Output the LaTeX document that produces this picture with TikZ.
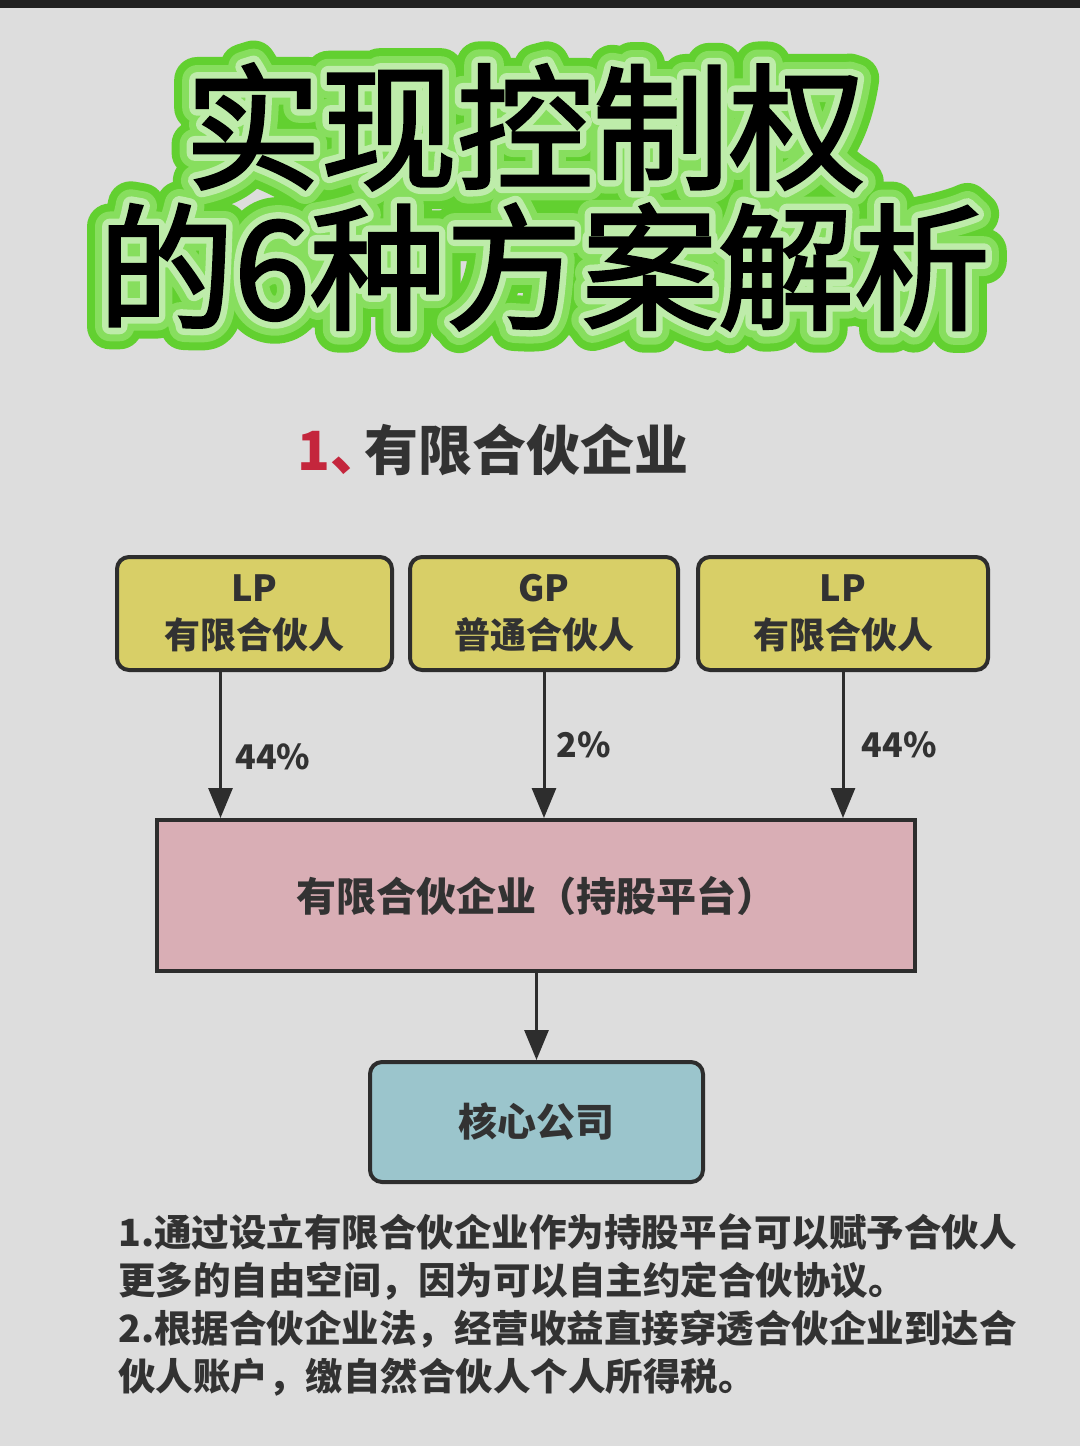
\documentclass[tikz,border=0pt]{standalone}
\usepackage{fontspec}
\newfontfamily\cjk{Noto Sans CJK SC}
\newfontfamily\cjkhead{Noto Sans CJK SC}[FakeBold=2.2]
\usetikzlibrary{arrows.meta, positioning}

\definecolor{paper}{RGB}{221,221,221}
\definecolor{topbar}{RGB}{32,32,32}
\definecolor{edge}{RGB}{45,45,45}
\definecolor{ink}{RGB}{50,50,50}
\definecolor{numred}{RGB}{196,38,60}
\definecolor{yellowbox}{RGB}{216,207,103}
\definecolor{pinkbox}{RGB}{217,174,181}
\definecolor{tealbox}{RGB}{155,197,204}
\definecolor{glowA}{rgb}{0.384,0.816,0.188}
\definecolor{glowB}{rgb}{0.53,0.87,0.37}
\definecolor{glowC}{rgb}{0.745,0.925,0.667}

% stroked copy of a title line: width, stroke colour, text
\newcommand\glowstroke[3]{\special{pdf:literal direct 2 Tr 1 j 1 J #1 w #2 RG}#3\special{pdf:literal direct 0 Tr}}

\begin{document}
\begin{tikzpicture}[x=1pt, y=-1pt]

% Define styles
\tikzstyle{headline}=[font=\cjkhead\fontsize{136}{136}\selectfont, inner sep=0pt]
\tikzstyle{halo}=[font=\cjk\fontsize{136}{136}\selectfont, inner sep=0pt]
\tikzstyle{partner}=[draw=edge, line width=4pt, rounded corners=12pt, fill=yellowbox, minimum height=113pt, align=center, text=ink, font=\cjk\bfseries\fontsize{36}{47}\selectfont]
\tikzstyle{holding}=[draw=edge, line width=4pt, fill=pinkbox, text=ink, font=\cjk\bfseries\fontsize{40}{40}\selectfont]
\tikzstyle{company}=[draw=edge, line width=4pt, rounded corners=12pt, fill=tealbox, text=ink, font=\cjk\bfseries\fontsize{39}{39}\selectfont]
\tikzstyle{flow}=[draw=edge, line width=3pt, -{Triangle[length=30pt, width=24pt]}]
\tikzstyle{pct}=[text=ink, font=\cjk\bfseries\fontsize{34}{34}\selectfont]
\tikzstyle{note}=[text=ink, align=left, inner sep=0pt, font=\cjk\bfseries\fontsize{37.5}{48}\selectfont]

% Page and top bar
\useasboundingbox (0,0) rectangle (1080,1446);
\fill[paper] (0,0) rectangle (1080,1446);
\fill[topbar] (0,0) rectangle (1080,8);

% Title with green glow
\foreach \w/\c/\s in {46/glowA/{0.384 0.816 0.188}, 30/glowB/{0.53 0.87 0.37}, 16/glowC/{0.745 0.925 0.667}} {
  \node[halo, text=\c] at (525,127) {\glowstroke{\w}{\s}{实现控制权}};
  \node[halo, text=\c] at (544,267) {\glowstroke{\w}{\s}{的6种方案解析}};
}
\node[headline] (titleA) at (525,127) {实现控制权};
\node[headline] (titleB) at (544,267) {的6种方案解析};

% Section heading
\node[anchor=west, inner sep=0pt, text=ink, font=\cjk\bfseries\fontsize{54}{54}\selectfont] (heading) at (297,450) {\textcolor{numred}{1、}\kern-20pt 有限合伙企业};

% Partners
\node[partner, minimum width=275pt] (lpA) at (254.5,613.5) {LP\\有限合伙人};
\node[partner, minimum width=268pt] (gpP) at (544,613.5) {GP\\普通合伙人};
\node[partner, minimum width=290pt] (lpB) at (843,613.5) {LP\\有限合伙人};

% Holding platform and core company
\node[holding, minimum width=758pt, minimum height=151pt] (platform) at (536,895.5) {有限合伙企业（持股平台）};
\node[company, minimum width=333pt, minimum height=120pt] (core) at (536.5,1122) {核心公司};

% Shares
\coordinate (tA) at ([xshift=-34pt]lpA.south);
\draw[flow] (tA) -- (tA |- platform.north) node[pct, pos=0.58, right=10pt] {44\%};
\draw[flow] (gpP.south) -- (gpP.south |- platform.north) node[pct, pos=0.5, right=8pt] {2\%};
\draw[flow] (lpB.south) -- (lpB.south |- platform.north) node[pct, pos=0.5, right=14pt] {44\%};
\draw[flow] (core.north |- platform.south) -- (core.north);

% Notes
\node[note, anchor=north west] (notes) at (118,1213) {1.通过设立有限合伙企业作为持股平台可以赋予合伙人\\更多的自由空间，因为可以自主约定合伙协议。\\2.根据合伙企业法，经营收益直接穿透合伙企业到达合\\伙人账户，缴自然合伙人个人所得税。};

\end{tikzpicture}
\end{document}
